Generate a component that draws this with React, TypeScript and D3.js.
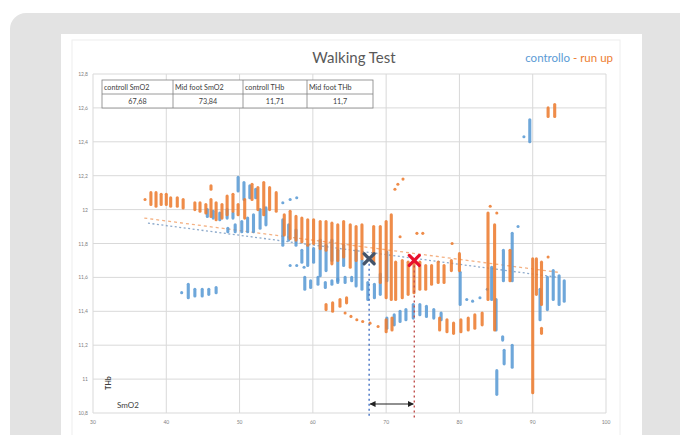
import React from "react";
import * as d3 from "d3";

// ---- data (SmO2 %, THb g/dl) ----
// run up (orange): columns of stacked points [SmO2, THb low, THb high]
const runX = [37.1,37.9,38.6,39.3,40.0,40.6,41.5,42.3,43.9,44.6,45.4,46.1,46.1,46.8,47.6,48.3,49.1,49.8,50.7,51.7,52.5,53.3,54.1,55.0,56.1,56.9,57.7,58.5,59.3,60.1,61.0,61.8,62.6,63.4,64.2,65.1,65.9,66.7,68.3,69.2,70.0,70.7,71.2,71.6,72.3,71.3,72.2,73.0,73.8,74.6,75.4,76.2,77.1,77.9,78.9,80.0,83.9,84.8,86.9,90.0,90.5,91.2,91.2,92.1,93.0,61.8,62.7,63.7,64.6,64.4,65.2,66.0,66.8,67.8,68.9,70.0,70.8,77.3,78.3,79.2,80.2,81.2,82.1,83.1,71.9,74.2,75.0,79.0,84.2,85.1,92.1];
const runLo = [12.06,12.03,12.02,12.03,12.03,12.02,12.02,12.01,12.00,11.99,11.98,12.12,11.96,11.94,11.95,11.97,11.99,11.97,11.95,12.06,12.00,11.97,12.00,11.99,11.85,11.83,11.82,11.81,11.79,11.80,11.77,11.76,11.68,11.70,11.72,11.66,11.70,11.71,11.69,11.57,11.48,11.47,12.12,12.15,12.18,11.47,11.48,11.50,11.51,11.53,11.53,11.56,11.57,11.57,11.64,11.64,11.47,11.29,11.58,10.92,11.50,11.44,11.27,12.55,12.55,11.41,11.40,11.43,11.45,11.39,11.37,11.35,11.34,11.33,11.31,11.28,11.29,11.29,11.28,11.27,11.28,11.29,11.30,11.32,11.84,11.86,11.86,11.80,12.02,11.98,11.72];
const runHi = [12.06,12.10,12.10,12.09,12.09,12.07,12.07,12.06,12.04,12.04,12.03,12.14,12.06,12.04,12.03,12.08,12.09,12.03,12.06,12.15,12.13,12.16,12.13,12.10,11.97,11.99,11.96,11.95,11.94,11.94,11.93,11.93,11.92,11.91,11.93,11.91,11.90,11.91,11.90,11.90,11.93,11.97,12.12,12.15,12.18,11.69,11.70,11.69,11.69,11.69,11.67,11.67,11.69,11.67,11.70,11.74,11.98,11.91,11.76,11.71,11.71,11.69,11.30,12.60,12.62,11.44,11.45,11.47,11.48,11.39,11.37,11.35,11.34,11.33,11.31,11.35,11.36,11.36,11.35,11.33,11.35,11.36,11.38,11.39,11.84,11.86,11.86,11.80,12.02,11.98,11.72];

// controllo (blue)
const ctrlX = [49.8,50.6,51.4,52.2,55.9,56.9,57.8,45.6,46.4,47.3,48.3,49.1,48.4,49.4,50.3,51.1,51.9,52.8,53.6,55.9,56.7,57.7,58.5,59.3,60.1,61.0,61.8,62.6,63.4,64.2,65.9,66.7,56.9,57.8,58.8,58.9,59.7,60.7,61.7,62.6,63.4,64.4,65.3,67.5,68.4,69.2,70.1,70.1,71.1,71.9,72.7,73.7,74.6,75.5,76.5,77.5,80.1,81.0,81.8,82.8,83.8,84.4,85.0,85.1,86.1,85.9,87.2,86.0,87.2,88.0,88.8,89.6,91.0,92.0,92.8,93.6,94.3,42.1,43.0,43.9,44.9,45.8,46.8];
const ctrlLo = [12.11,12.06,12.07,12.07,12.04,12.06,12.07,11.96,11.95,11.94,11.95,11.95,11.87,11.87,11.87,11.87,11.87,11.89,11.91,11.79,11.82,11.79,11.69,11.67,11.69,11.61,11.64,11.70,11.58,11.67,11.55,11.53,11.67,11.67,11.66,11.53,11.54,11.56,11.54,11.56,11.57,11.57,11.58,11.47,11.48,11.50,11.58,11.30,11.32,11.34,11.35,11.36,11.38,11.37,11.36,11.35,11.44,11.47,11.46,11.48,11.53,11.47,11.29,10.91,11.09,11.23,11.07,11.58,11.58,11.90,12.43,12.40,11.35,11.41,11.47,11.44,11.46,11.51,11.48,11.49,11.49,11.50,11.51];
const ctrlHi = [12.19,12.16,12.14,12.12,12.04,12.06,12.07,12.00,11.99,11.98,12.00,11.98,11.89,11.91,11.93,11.95,11.97,12.00,12.01,11.94,11.91,11.88,11.76,11.79,11.77,11.82,11.79,11.82,11.76,11.79,11.76,11.70,11.67,11.67,11.66,11.60,11.58,11.60,11.57,11.58,11.59,11.60,11.60,11.57,11.56,11.62,11.75,11.36,11.38,11.40,11.41,11.44,11.44,11.43,11.41,11.39,11.63,11.47,11.46,11.48,11.53,11.66,11.47,11.05,11.17,11.25,11.20,11.76,11.86,11.90,12.43,12.53,11.53,11.60,11.64,11.61,11.58,11.51,11.56,11.53,11.53,11.53,11.54];

// trend lines [SmO2 start, THb start, SmO2 end, THb end]
const runTrend = [37.0, 11.95, 93.5, 11.63];
const ctrlTrend = [37.5, 11.92, 93.5, 11.60];

// means
const ctrlMean = [67.68, 11.71];
const runMean = [73.84, 11.7];

const xTicks = [30, 40, 50, 60, 70, 80, 90, 100];
const yTicks = [10.8, 11, 11.2, 11.4, 11.6, 11.8, 12, 12.2, 12.4, 12.6, 12.8];

const tableHead = ["controll SmO2", "Mid foot SmO2", "controll THb", "Mid foot THb"];
const tableVals = ["67,68", "73,84", "11,71", "11,7"];

const BLUE = "#5b9bd5";
const ORANGE = "#ed7d31";
const FONT = "Lato, 'Open Sans', 'Liberation Sans', sans-serif";

export default function App() {
  const W = 680, H = 435;
  const x = d3.scaleLinear().domain([30, 100]).range([93, 606]);
  const y = d3.scaleLinear().domain([10.8, 12.8]).range([413, 74]);
  const fmt = (v: number) => {
    const s = d3.format(".1f")(v);
    return (s.endsWith(".0") ? s.slice(0, -2) : s).replace(".", ",");
  };
  const colX = [102, 173, 243, 307, 373];
  const rowY = [80, 94, 108];

  const marks = (xs: number[], lo: number[], hi: number[], color: string, key: string) =>
    xs.map((v, i) => (
      <line key={key + i} x1={x(v)} x2={x(v)} y1={y(lo[i])} y2={y(hi[i])}
        stroke={color} strokeWidth={3.1} strokeLinecap="round" opacity={0.88} />
    ));

  const cross = (cx: number, cy: number, color: string) => (
    <g stroke={color} strokeWidth={3.2} strokeLinecap="round">
      <line x1={cx - 5} y1={cy - 5} x2={cx + 5} y2={cy + 5} />
      <line x1={cx - 5} y1={cy + 5} x2={cx + 5} y2={cy - 5} />
    </g>
  );

  const arrowY = y(10.853);

  return (
    <div style={{ position: "absolute", left: 0, top: 0, width: W, height: H, overflow: "hidden", background: "#fff" }}>
      <svg width={W} height={H} style={{ display: "block" }}>
        <defs>
          <marker id="ah" viewBox="0 0 10 10" refX="9" refY="5" markerWidth="5" markerHeight="5" orient="auto-start-reverse">
            <path d="M0,0 L10,5 L0,10 z" fill="#222" />
          </marker>
        </defs>
        <rect x={10} y={13} width={700} height={460} rx={16} fill="#e3e3e3" />
        <rect x={61} y={34} width={581} height={420} fill="#ffffff" />
        <rect x={72} y={40} width={548} height={410} fill="none" stroke="#eeeeee" strokeWidth={1} />

        {/* grid */}
        {yTicks.map((t) => (
          <line key={"gy" + t} x1={x(30)} x2={x(100)} y1={y(t)} y2={y(t)} stroke="#d9d9d9" strokeWidth={1} />
        ))}
        {xTicks.map((t) => (
          <line key={"gx" + t} x1={x(t)} x2={x(t)} y1={y(12.8)} y2={y(10.8)} stroke="#d9d9d9" strokeWidth={1} />
        ))}
        {yTicks.map((t) => (
          <text key={"ty" + t} x={88} y={y(t) + 2} fontSize={5} fill="#7f7f7f" textAnchor="end" fontFamily={FONT}>{fmt(t)}</text>
        ))}
        {xTicks.map((t) => (
          <text key={"tx" + t} x={x(t)} y={424} fontSize={5} fill="#7f7f7f" textAnchor="middle" fontFamily={FONT}>{t}</text>
        ))}

        {/* trend lines */}
        <line x1={x(ctrlTrend[0])} y1={y(ctrlTrend[1])} x2={x(ctrlTrend[2])} y2={y(ctrlTrend[3])}
          stroke="#8eaacb" strokeWidth={1.3} strokeDasharray="2,2.5" />
        <line x1={x(runTrend[0])} y1={y(runTrend[1])} x2={x(runTrend[2])} y2={y(runTrend[3])}
          stroke="#f4b183" strokeWidth={1.3} strokeDasharray="3,3" />

        {/* points */}
        {marks(ctrlX, ctrlLo, ctrlHi, BLUE, "c")}
        {marks(runX, runLo, runHi, ORANGE, "r")}

        {/* mean drop lines */}
        <line x1={x(ctrlMean[0])} x2={x(ctrlMean[0])} y1={y(ctrlMean[1])} y2={y(10.8) + 5}
          stroke="#4472c4" strokeWidth={1.4} strokeDasharray="2,3" />
        <line x1={x(runMean[0])} x2={x(runMean[0])} y1={y(runMean[1])} y2={y(10.8) + 5}
          stroke="#c0504d" strokeWidth={1.4} strokeDasharray="2,3" />
        <line x1={x(ctrlMean[0]) + 1} x2={x(runMean[0]) - 1} y1={arrowY} y2={arrowY}
          stroke="#222" strokeWidth={1.2} markerStart="url(#ah)" markerEnd="url(#ah)" />

        {cross(x(ctrlMean[0]), y(ctrlMean[1]), "#44546a")}
        {cross(x(runMean[0]), y(runMean[1]), "#e8112d")}

        {/* title & legend */}
        <text x={354} y={63} fontSize={15} fill="#595959" textAnchor="middle" fontFamily={FONT}>Walking Test</text>
        <text x={613} y={62} fontSize={11.5} textAnchor="end" fontFamily={FONT}>
          <tspan fill={BLUE}>controllo</tspan>
          <tspan fill={ORANGE}> - run up</tspan>
        </text>

        {/* table */}
        <rect x={colX[0]} y={rowY[0]} width={colX[4] - colX[0]} height={rowY[2] - rowY[0]} fill="#fff" stroke="#808080" strokeWidth={0.8} />
        <line x1={colX[0]} x2={colX[4]} y1={rowY[1]} y2={rowY[1]} stroke="#808080" strokeWidth={0.8} />
        {colX.slice(1, 4).map((cx, i) => (
          <line key={"tc" + i} x1={cx} x2={cx} y1={rowY[0]} y2={rowY[2]} stroke="#808080" strokeWidth={0.8} />
        ))}
        {tableHead.map((h, i) => (
          <text key={"th" + i} x={colX[i] + 2} y={rowY[0] + 10} fontSize={7.2} fill="#404040" fontFamily={FONT}>{h}</text>
        ))}
        {tableVals.map((v, i) => (
          <text key={"tv" + i} x={(colX[i] + colX[i + 1]) / 2} y={rowY[1] + 10} fontSize={7.2} fill="#404040" textAnchor="middle" fontFamily={FONT}>{v}</text>
        ))}

        {/* axis titles */}
        <text transform={`translate(111,383) rotate(-90)`} fontSize={7} fontWeight="bold" fill="#404040" textAnchor="middle" fontFamily={FONT}>THb</text>
        <text x={117} y={408} fontSize={8} fill="#404040" fontFamily={FONT}>SmO2</text>
      </svg>
    </div>
  );
}
